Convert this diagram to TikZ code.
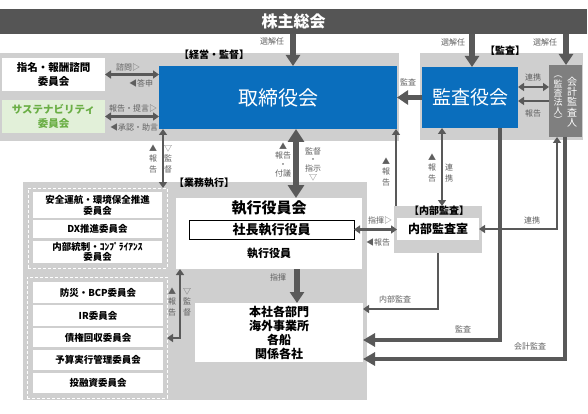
\documentclass[tikz,border=0pt]{standalone}
\usepackage{fontspec}
\setmainfont{Noto Sans CJK JP}
\usetikzlibrary{arrows.meta}
\definecolor{barc}{HTML}{555555}
\definecolor{regc}{HTML}{CFCFCF}
\definecolor{bluec}{HTML}{0A6EBD}
\definecolor{accc}{HTML}{7F7F7F}
\definecolor{lnc}{HTML}{595959}
\definecolor{labc}{HTML}{5F5F5F}
\definecolor{grnbg}{HTML}{E2F0D9}
\definecolor{grntx}{HTML}{6AAE45}
\newcommand{\fsz}[2]{\fontsize{#1}{#2}\selectfont}
\begin{document}
\begin{tikzpicture}[x=1pt,y=-1pt,
  box/.style={anchor=north west, inner sep=0pt, outer sep=0pt, align=center},
  region/.style={box, fill=regc},
  wbox/.style={box, fill=white, font=\fsz{9.5}{11}\bfseries},
  grp/.style={box, draw=white, line width=1pt, dash pattern=on 3pt off 2pt},
  lbl/.style={inner sep=0pt, text=labc, font=\fsz{8}{9}, align=center},
  vlbl/.style={lbl, font=\fsz{8}{10.5}},
  ttl/.style={inner sep=0pt, font=\fsz{10}{10}\bfseries},
  thk/.style={draw=lnc, line width=5.5pt, -{Triangle[length=11pt,width=14pt]}},
  thkdbl/.style={draw=lnc, line width=6pt, {Triangle[length=13pt,width=16pt]}-{Triangle[length=13pt,width=16pt]}},
  aud/.style={draw=lnc, line width=4pt, -{Triangle[length=12pt,width=13pt]}},
  thn/.style={draw=lnc, line width=2.2pt, -{Triangle[length=6pt,width=8pt]}},
  thndbl/.style={draw=lnc, line width=2.2pt, {Triangle[length=6pt,width=8pt]}-{Triangle[length=6pt,width=8pt]}},
]
\useasboundingbox (0,0) rectangle (588,414);

% ---- regions
\node[region, minimum width=399pt, minimum height=88pt] (rmg) at (0,53) {};
\node[region, minimum width=163pt, minimum height=87pt] (rau) at (420,53) {};
\node[region, minimum width=344pt, minimum height=218pt] (rex) at (23,182) {};
\node[region, minimum width=88pt, minimum height=47pt] (ia) at (394,206) {};

% ---- top bar
\node[box, fill=barc, text=white, font=\fsz{16}{16}\bfseries, minimum width=587pt, minimum height=25pt] (gm) at (0,9) {株主総会};

% ---- management
\node[box, fill=bluec, text=white, font=\fsz{20}{20}, minimum width=238pt, minimum height=63pt] (bod) at (159,66) {取締役会};
\node[box, fill=white, font=\fsz{10.5}{14}\bfseries, minimum width=103pt, minimum height=33pt] (nom) at (2,58) {指名・報酬諮問\\委員会};
\node[box, fill=grnbg, text=grntx, font=\fsz{10.5}{14}\bfseries, minimum width=103pt, minimum height=33pt] (sus) at (2,100) {サステナビリティ\\委員会};
\node[ttl] (tmg) at (214,55) {【経営・監督】};

% ---- audit
\node[box, fill=bluec, text=white, font=\fsz{19}{19}, minimum width=96pt, minimum height=61pt] (kan) at (422,67) {監査役会};
\node[box, fill=accc, minimum width=33pt, minimum height=72pt] (acc) at (549,65) {};
\node[inner sep=0pt, text=white, align=center, font=\fsz{10}{10.3}] (accr) at (572,102) {会\\計\\監\\査\\人};
\node[inner sep=0pt, text=white, align=center, font=\fsz{9}{9.2}] (accl) at (558,100) {︵\\監\\査\\法\\人\\︶};
\node[ttl] (tau) at (505,51) {【監査】};

% ---- execution
\node[ttl] (tex) at (204,183) {【業務執行】};
\node[grp, minimum width=139pt, minimum height=80pt] (g1) at (28,188) {};
\node[wbox, minimum width=129pt, minimum height=26pt] (c1) at (33,192) {安全運航・環境保全推進\\委員会};
\node[wbox, minimum width=129pt, minimum height=18pt] (c2) at (33,220) {DX推進委員会};
\node[wbox, minimum width=129pt, minimum height=22pt, font=\fsz{9.5}{10.5}\bfseries] (c3) at (33,241) {内部統制・ｺﾝﾌﾟﾗｲｱﾝｽ\\委員会};
\node[grp, minimum width=140pt, minimum height=121pt] (g2) at (27,277) {};
\node[wbox, minimum width=130pt, minimum height=21pt] (d1) at (33,282) {防災・BCP委員会};
\node[wbox, minimum width=130pt, minimum height=21pt] (d2) at (33,305) {IR委員会};
\node[wbox, minimum width=130pt, minimum height=19pt] (d3) at (33,328) {債権回収委員会};
\node[wbox, minimum width=130pt, minimum height=20pt] (d4) at (33,350) {予算実行管理委員会};
\node[wbox, minimum width=130pt, minimum height=20pt] (d5) at (33,373) {投融資委員会};

\node[box, fill=white, minimum width=186pt, minimum height=71pt] (exe) at (176,198) {};
\node[inner sep=0pt, font=\fsz{15}{15}\bfseries] (exet) at (269,208) {執行役員会};
\node[box, fill=white, draw=black, line width=0.8pt, font=\fsz{13}{13}\bfseries, minimum width=165pt, minimum height=19pt] (pres) at (189,220) {社長執行役員};
\node[inner sep=0pt, font=\fsz{11}{11}\bfseries] (exem) at (269,253) {執行役員};

\node[box, fill=white, font=\fsz{12}{14}\bfseries, minimum width=168pt, minimum height=59pt] (honsha) at (195,303) {本社各部門\\海外事業所\\各船\\関係各社};

% ---- internal audit
\node[ttl] (tia) at (439,211) {【内部監査】};
\node[box, fill=white, font=\fsz{12}{12}\bfseries, minimum width=82pt, minimum height=22pt] (iar) at (397,218) {内部監査室};

% ---- helper coordinates
\coordinate (ca) at (293,0);
\coordinate (cb) at (472,0);
\coordinate (cc) at (566,0);
\coordinate (cg1) at (0,87);
\coordinate (cg2) at (0,101);
\coordinate (ci) at (163,0);
\coordinate (cj) at (296,0);
\coordinate (ck) at (396,0);
\coordinate (cl) at (442,0);
\coordinate (cn) at (297,0);
\coordinate (co) at (180,338);
\coordinate (cp) at (438,309);
\coordinate (cq) at (500,340);
\coordinate (cr) at (565,359);
\coordinate (cs) at (557,0);

% ---- connectors
\draw[thk] (gm.south -| ca) -- (bod.north -| ca);
\draw[thk] (gm.south -| cb) -- (kan.north -| cb);
\draw[thk] (gm.south -| cc) -- (acc.north -| cc);
\draw[thk] (kan.west) -- (bod.east |- kan.west);
\draw[thndbl] (nom.east) -- (bod.west |- nom.east);
\draw[thndbl] (sus.east) -- (bod.west |- sus.east);
\draw[thndbl] (kan.east |- cg1) -- (acc.west |- cg1);
\draw[thn] (acc.west |- cg2) -- (kan.east |- cg2);
\draw[thndbl] (bod.south -| ci) -- (g1.north -| ci);
\draw[thkdbl] (bod.south -| cj) -- (exe.north -| cj);
\draw[thn] (ia.north -| ck) -- (bod.south -| ck);
\draw[thndbl] (kan.south -| cl) -- (ia.north -| cl);
\draw[thndbl] (pres.east) -- (iar.west |- pres.east);
\draw[thk] (exe.south -| cn) -- (honsha.north -| cn);
\draw[thndbl] (exe.south -| co) |- (g2.east |- co);
\draw[thndbl] (iar.east) -| (acc.south -| cs);
\draw[thn] (ia.south -| cp) |- (honsha.east |- cp);
\draw[aud] (kan.south -| cq) |- (honsha.east |- cq);
\draw[aud] (acc.south -| cr) |- (honsha.east |- cr);

% ---- labels
\node[lbl] (l1) at (272,41) {選解任};
\node[lbl] (l2) at (453,42) {選解任};
\node[lbl] (l3) at (545,42) {選解任};
\node[lbl] (l4) at (408,82) {監査};
\node[lbl] (l5) at (128,67) {諮問▷};
\node[lbl] (l6) at (141,83) {◀答申};
\node[lbl] (l7) at (133,108) {報告・提言▷};
\node[lbl] (l8) at (134,127) {◀承認・助言};
\node[lbl] (l9) at (533,77) {連携};
\node[lbl] (l10) at (533,113) {報告};
\node[vlbl] (l11) at (153,159) {▲\\報\\告};
\node[vlbl] (l12) at (168,159) {▽\\監\\督};
\node[lbl, font=\fsz{8}{8.7}] (l13) at (283,160) {▲\\報告\\・\\付議};
\node[lbl, font=\fsz{8}{8.7}] (l14) at (313,164) {監督\\・\\指示\\▽};
\node[vlbl] (l15) at (386,172) {▲\\報\\告};
\node[vlbl] (l16) at (432,168) {▲\\報\\告};
\node[vlbl] (l17) at (449,173) {連\\携};
\node[lbl] (l18) at (380,220) {指揮▷};
\node[lbl] (l19) at (378,242) {◀報告};
\node[lbl] (l20) at (278,277) {指揮};
\node[vlbl] (l21) at (172,302) {▲\\報\\告};
\node[vlbl] (l22) at (187,302) {▽\\監\\督};
\node[lbl] (l23) at (395,299) {内部監査};
\node[lbl] (l24) at (463,329) {監査};
\node[lbl] (l25) at (530,346) {会計監査};
\node[lbl] (l26) at (532,220) {連携};
\end{tikzpicture}
\end{document}
